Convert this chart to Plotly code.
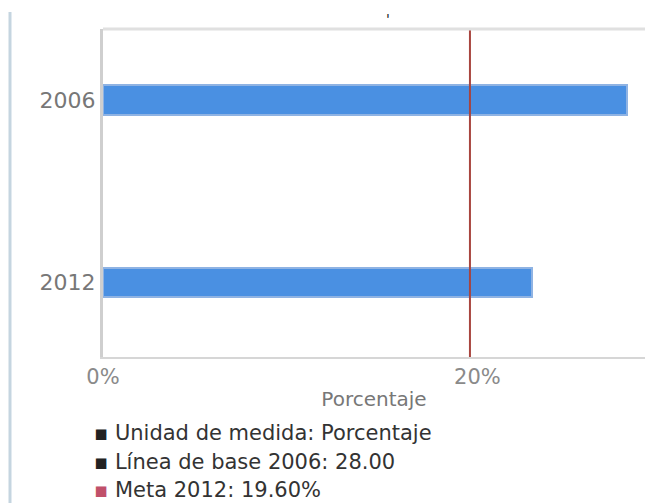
import plotly.graph_objects as go

# data
years = ["2006", "2012"]
values = [28.0, 22.9]
meta = 19.6
tick_vals = [0, 20]
tick_text = ["0%", "20%"]
notes = ["Unidad de medida: Porcentaje", "Línea de base 2006: 28.00", "Meta 2012: 19.60%"]
note_colors = ["#222222", "#222222", "#c0506a"]

FONT = "DejaVu Sans"

fig = go.Figure()
fig.add_trace(go.Bar(
    y=years, x=values, orientation="h", width=0.16,
    marker=dict(color="#4a90e2", line=dict(color="#8fb3e3", width=2)),
    showlegend=False,
))

# meta line
fig.add_shape(type="line", xref="x", yref="paper", x0=meta, x1=meta, y0=0, y1=1,
              line=dict(color="#a8453f", width=2))
# top border of the plot area
fig.add_shape(type="line", xref="paper", yref="paper", x0=0, x1=1, y0=1, y1=1,
              line=dict(color="#e0e0e0", width=3))
# page border on the left
fig.add_shape(type="line", xref="paper", yref="paper", x0=-0.1716, x1=-0.1716, y0=-0.45, y1=1.052,
              line=dict(color="#c5d5e0", width=3))

fig.update_xaxes(range=[0, 28.95], tickvals=tick_vals, ticktext=tick_text,
                 showgrid=False, zeroline=False,
                 showline=True, linecolor="#d6d6d6", linewidth=2,
                 tickfont=dict(family=FONT, size=21, color="#8a8a8a"),
                 title=dict(text="Porcentaje", font=dict(family=FONT, size=20, color="#777777"), standoff=4),
                 ticks="")
fig.update_yaxes(type="category", categoryarray=years, range=[1.41, -0.39],
                 showgrid=False, showline=True, linecolor="#cfcfcf", linewidth=3,
                 tickfont=dict(family=FONT, size=22, color="#777777"), ticks="")

for i, (t, c) in enumerate(zip(notes, note_colors)):
    fig.add_annotation(xref="paper", yref="paper", x=-0.02, y=-0.233 - i * 0.087,
                       xanchor="left", yanchor="middle", showarrow=False,
                       text="<span style='color:%s'>▪</span> %s" % (c, t),
                       font=dict(family=FONT, size=21, color="#333333"))

fig.add_annotation(xref="paper", yref="paper", x=0.526, y=1.06, text="'", showarrow=False,
                   font=dict(family=FONT, size=14, color="#222222"))

fig.update_layout(
    width=645, height=503,
    margin=dict(l=103, r=0, t=29, b=146),
    plot_bgcolor="white", paper_bgcolor="white",
    bargap=0,
)

fig.write_html("out.html", config={"displayModeBar": False},
               post_script="document.body.style.margin='0';")
